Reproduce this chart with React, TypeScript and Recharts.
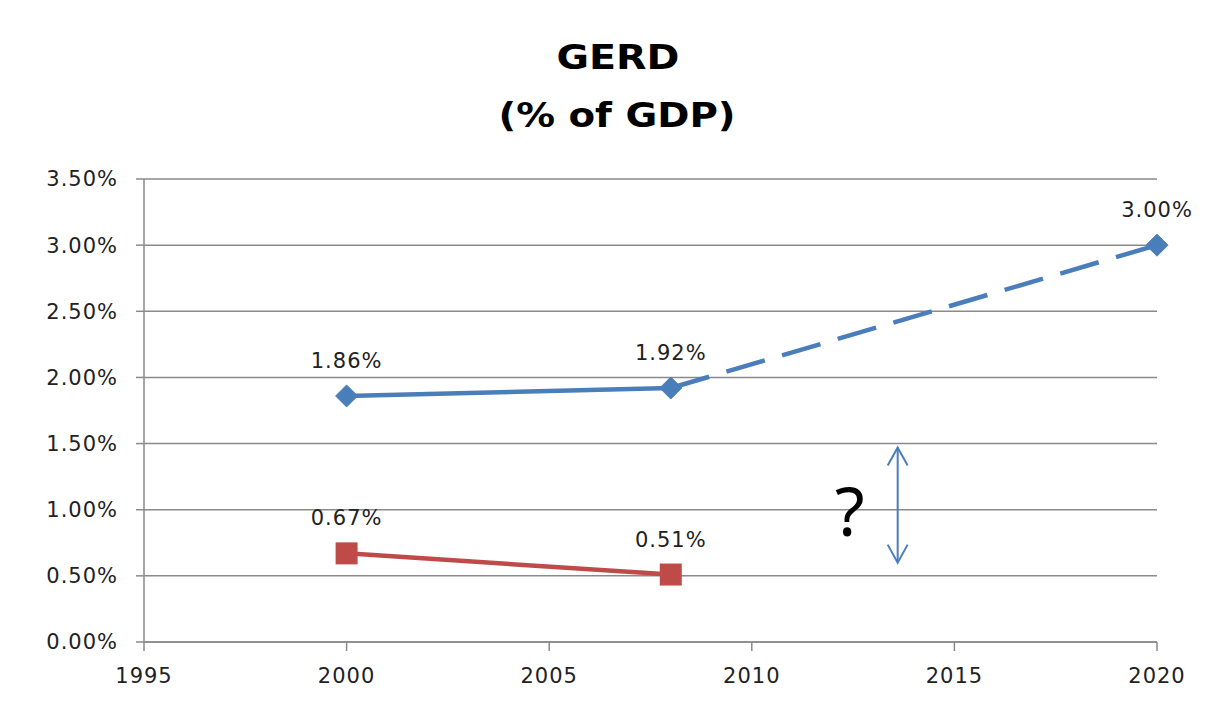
import React from 'react';
import {
  LineChart,
  Line,
  XAxis,
  YAxis,
  CartesianGrid,
  LabelList,
  ReferenceLine,
} from 'recharts';

// chart values
const years = [2000, 2008, 2020];
const euGerd = [1.86, 1.92, null];
const euTarget = [null, 1.92, 3.0];
const nationalGerd = [0.67, 0.51, null];

const xTicks = [1995, 2000, 2005, 2010, 2015, 2020];
const yTicks = [0, 0.5, 1, 1.5, 2, 2.5, 3, 3.5];
const titleLines = ['GERD', '(% of GDP)'];

// the "?" gap annotation
const gapYear = 2013.6;
const gapTop = 1.47;
const gapBottom = 0.6;
const gapText = '?';

const data = years.map((year, i) => ({
  year,
  eu: euGerd[i],
  target: euTarget[i],
  national: nationalGerd[i],
}));

const BLUE = '#4A7EBB';
const RED = '#BE4B48';
const GRID = '#8a8a8a';
const FONT = '"DejaVu Sans", Verdana, sans-serif';
const tickStyle = { fill: '#222', fontSize: 21, fontFamily: FONT, letterSpacing: 1 };

const pct = (v: number) => `${Number(v).toFixed(2)}%`;

const Diamond = (props: any) => {
  const { cx, cy } = props;
  if (cx == null || cy == null) return null;
  const r = 11;
  return (
    <polygon
      points={`${cx},${cy - r} ${cx + r},${cy} ${cx},${cy + r} ${cx - r},${cy}`}
      fill={BLUE}
      stroke={BLUE}
    />
  );
};

const TargetDot = (props: any) => {
  // only the 2020 end point gets a marker
  if (props.payload?.year !== 2020) return <g key={props.key} />;
  return <Diamond {...props} />;
};

const Square = (props: any) => {
  const { cx, cy } = props;
  if (cx == null || cy == null) return null;
  const s = 11;
  return <rect x={cx - s} y={cy - s} width={s * 2} height={s * 2} fill={RED} />;
};

const ValueLabel = (props: any) => {
  const { x, y, value } = props;
  if (value == null) return null;
  return (
    <text
      x={x}
      y={y - 28}
      textAnchor="middle"
      fill="#222"
      fontSize={21}
      letterSpacing={1}
      fontFamily={FONT}
    >
      {pct(value)}
    </text>
  );
};

const TargetLabel = (props: any) => {
  if (props.index !== 2) return null;
  return <ValueLabel {...props} />;
};

const GapArrow = (props: any) => {
  const { x1, y1, y2 } = props;
  if (x1 == null) return null;
  const top = Math.min(y1, y2);
  const bot = Math.max(y1, y2);
  const w = 10;
  const h = 18;
  return (
    <g>
      <line x1={x1} y1={top} x2={x1} y2={bot} stroke={BLUE} strokeWidth={2} />
      <polyline
        points={`${x1 - w},${top + h} ${x1},${top} ${x1 + w},${top + h}`}
        fill="none"
        stroke={BLUE}
        strokeWidth={2}
      />
      <polyline
        points={`${x1 - w},${bot - h} ${x1},${bot} ${x1 + w},${bot - h}`}
        fill="none"
        stroke={BLUE}
        strokeWidth={2}
      />
      <text
        x={x1 - 48}
        y={bot - 27}
        textAnchor="middle"
        fontSize={68}
        fontFamily={'"Noto Sans", sans-serif'}
        fill="#000"
      >
        {gapText}
      </text>
    </g>
  );
};

export default function App() {
  return (
    <div
      style={{
        position: 'relative',
        width: 1232,
        height: 707,
        overflow: 'hidden',
        background: '#fff',
        margin: '-8px 0 0 -8px',
      }}
    >
      <div
        style={{
          position: 'absolute',
          left: 5,
          top: 5,
          width: 1224,
          height: 740,
          boxSizing: 'border-box',
          border: '3px solid #8c8c8c',
        }}
      />
      <svg
        width={1232}
        height={150}
        style={{ position: 'absolute', left: 0, top: 0 }}
      >
        <text
          x={618}
          y={69}
          textAnchor="middle"
          fontFamily={FONT}
          fontWeight="bold"
          fontSize={34}
          textLength={123}
          lengthAdjust="spacingAndGlyphs"
          fill="#000"
        >
          {titleLines[0]}
        </text>
        <text
          x={617}
          y={127}
          textAnchor="middle"
          fontFamily={FONT}
          fontWeight="bold"
          fontSize={34}
          textLength={237}
          lengthAdjust="spacingAndGlyphs"
          fill="#000"
        >
          {titleLines[1]}
        </text>
      </svg>
      <div style={{ position: 'absolute', left: 0, top: 0 }}>
        <LineChart
          width={1232}
          height={707}
          data={data}
          margin={{ top: 179, right: 75, bottom: 0, left: 0 }}
        >
          <CartesianGrid vertical={false} stroke={GRID} strokeWidth={1.5} />
          <XAxis
            dataKey="year"
            type="number"
            domain={[1995, 2020]}
            ticks={xTicks}
            height={65}
            tickSize={9}
            tickMargin={17}
            axisLine={{ stroke: GRID, strokeWidth: 1.5 }}
            tickLine={{ stroke: GRID, strokeWidth: 1.5 }}
            tick={tickStyle}
            interval={0}
          />
          <YAxis
            type="number"
            domain={[0, 3.5]}
            ticks={yTicks}
            width={144}
            tickSize={8}
            tickMargin={18}
            tickFormatter={pct}
            axisLine={{ stroke: GRID, strokeWidth: 1.5 }}
            tickLine={{ stroke: GRID, strokeWidth: 1.5 }}
            tick={tickStyle}
            interval={0}
          />
          <ReferenceLine
            segment={[
              { x: gapYear, y: gapTop },
              { x: gapYear, y: gapBottom },
            ]}
            shape={<GapArrow />}
            ifOverflow="visible"
          />
          <Line
            dataKey="target"
            stroke={BLUE}
            strokeWidth={4.5}
            strokeDasharray="40 18"
            dot={<TargetDot />}
            activeDot={false}
            isAnimationActive={false}
          >
            <LabelList dataKey="target" content={<TargetLabel />} />
          </Line>
          <Line
            dataKey="eu"
            stroke={BLUE}
            strokeWidth={4.5}
            dot={<Diamond />}
            activeDot={false}
            isAnimationActive={false}
          >
            <LabelList dataKey="eu" content={<ValueLabel />} />
          </Line>
          <Line
            dataKey="national"
            stroke={RED}
            strokeWidth={4.5}
            dot={<Square />}
            activeDot={false}
            isAnimationActive={false}
          >
            <LabelList dataKey="national" content={<ValueLabel />} />
          </Line>
        </LineChart>
      </div>
    </div>
  );
}
